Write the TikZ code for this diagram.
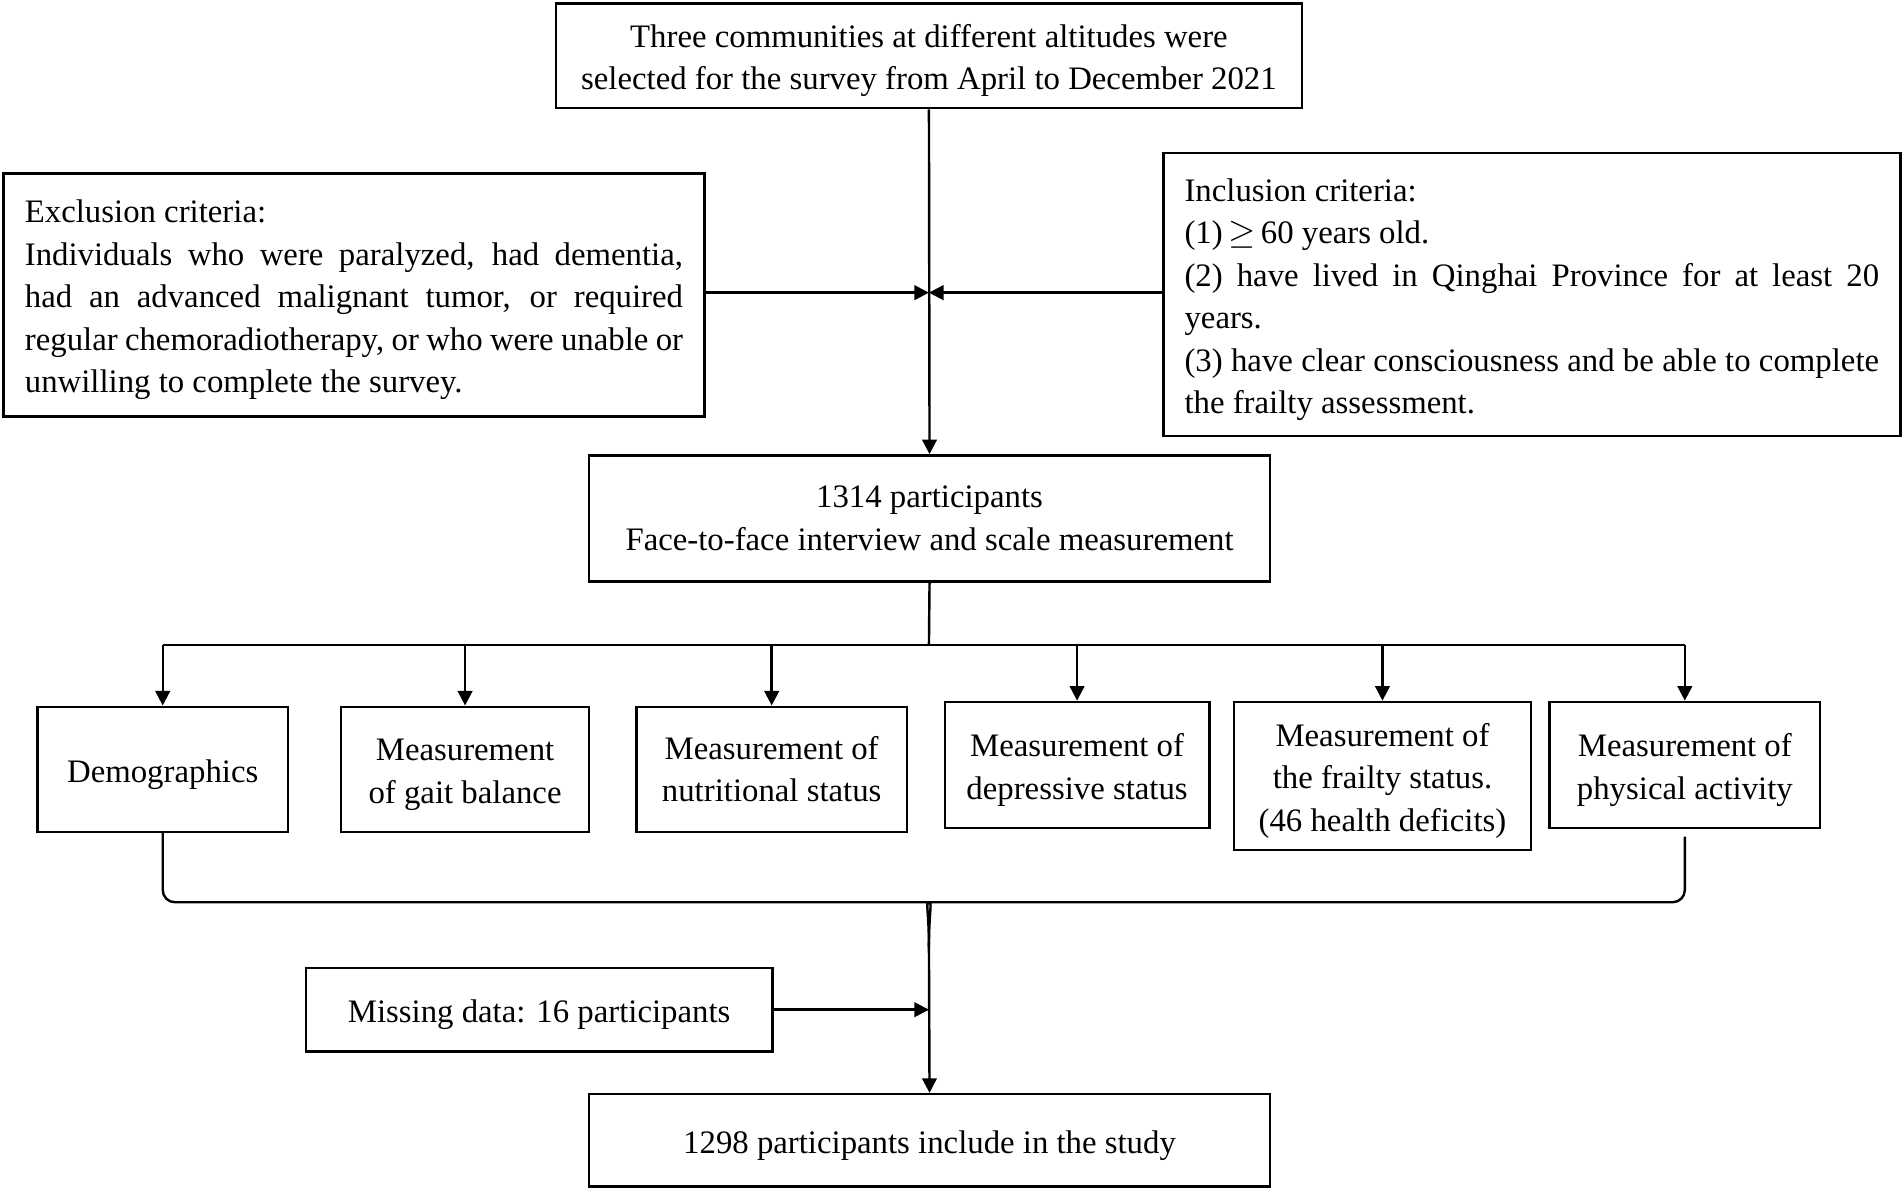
\documentclass[tikz,border=0pt]{standalone}
\usepackage{fontspec}
\setmainfont{Liberation Serif}
\usepackage{tikz}
\usetikzlibrary{arrows.meta}

\newcommand{\boxstrut}{\rule{0pt}{13.5pt}}

\tikzset{
    box/.style={draw, line width=1pt, align=center, inner sep=2pt,
        font=\fontsize{13.5}{17.5}\selectfont,
        execute at begin node={\boxstrut}},
    link/.style={line width=1pt},
    arr/.style={link, -{Triangle[length=6pt,width=6pt]}}
}

\begin{document}
\begin{tikzpicture}[x=0.5pt, y=-0.5pt]
        \useasboundingbox (0,0) rectangle (1568,980);

        \node [box, minimum width=307pt, minimum height=43pt] (survey) at (765,46)
            {\boxstrut Three communities at different altitudes were\\ selected for the survey from April to December 2021};
        \node [box, minimum width=288.5pt, minimum height=100pt, text width=271pt, align=justify] (excl) at (291.5,243)
            {Exclusion criteria:\\
            Individuals who were paralyzed, had dementia,\linebreak
            had an advanced malignant tumor, or required\linebreak
            regular chemoradiotherapy, or who were unable or\linebreak
            unwilling to complete the survey.};
        \node [box, minimum width=303.5pt, minimum height=116.5pt, text width=286pt, align=justify] (incl) at (1261.5,242.5)
            {Inclusion criteria:\\
            (1)\,$\geq$\,60 years old.\\
            (2) have lived in Qinghai Province for at least 20\linebreak
            years.\\
            (3) have clear consciousness and be able to complete\linebreak
            the frailty assessment.};
        \node [box, minimum width=280.5pt, minimum height=52pt] (interview) at (765.5,427)
            {1314 participants\\ Face-to-face interview and scale measurement};

        % measurements
        \node [box, minimum width=103pt, minimum height=51.5pt] (demo) at (134,633.5) {Demographics};
        \node [box, minimum width=102pt, minimum height=51.5pt] (gait) at (383,633.5) {\boxstrut Measurement\\ of gait balance};
        \node [box, minimum width=111.5pt, minimum height=51.5pt] (nutri) at (635.5,633.5) {Measurement of\\ nutritional status};
        \node [box, minimum width=109pt, minimum height=52pt] (depr) at (887,630) {\boxstrut Measurement of\\ depressive status};
        \node [box, minimum width=122.5pt, minimum height=61pt] (frail) at (1138.5,639) {\boxstrut Measurement of\\ the frailty status.\\ (46 health deficits)};
        \node [box, minimum width=111.5pt, minimum height=52pt] (phys) at (1387.5,630) {\boxstrut Measurement of\\ physical activity};

        \node [box, minimum width=192pt, minimum height=34.5pt] (missing) at (444,831.5) {Missing data: 16 participants};
        \node [box, minimum width=280.5pt, minimum height=38pt] (final) at (765.5,939) {1298 participants include in the study};

        \coordinate (join) at (765,241);
        \coordinate (split) at (765,531);
        \coordinate (barL) at (755,743);
        \coordinate (barR) at (775,743);
        \coordinate (merge) at (765,780);

        \draw [arr] (survey.south) -- (interview.north);
        \draw [arr] (excl.east |- join) -- (join);
        \draw [arr] (incl.west |- join) -- (join);

        \draw [link] (interview.south) -- (split);
        \draw [link] (demo.north |- split) -- (phys.north |- split);
        \foreach \m in {demo, gait, nutri, depr, frail, phys}
            \draw [arr] (\m.north |- split) -- (\m.north);

        % brace
        \draw [link, rounded corners=5pt] (demo.south) |- (barL)
            .. controls (762,743) and (765,750) .. (merge);
        \draw [link, rounded corners=5pt] ([yshift=-3pt]phys.south) |- (barR)
            .. controls (768,743) and (765,750) .. (merge);

        \draw [arr] (merge) -- (final.north);
        \draw [arr] (missing.east) -- (missing.east -| merge);
    \end{tikzpicture}
\end{document}
